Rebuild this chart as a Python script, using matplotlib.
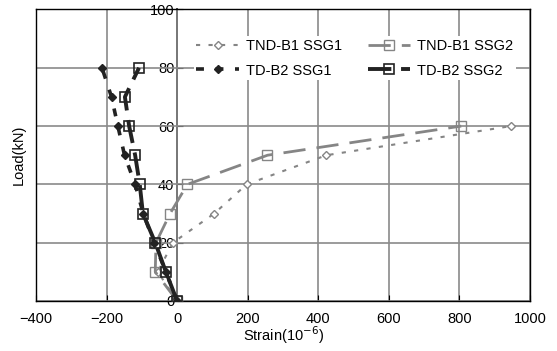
# Load-strain curves for TND-B1 and TD-B2 strain gauges

import matplotlib.pyplot as plt

plt.rcParams['font.family'] = ['Liberation Sans', 'DejaVu Sans']

# load steps (kN)
load_b1 = [0, 10, 20, 30, 40, 50, 60]
load_b2 = [0, 10, 20, 30, 40, 50, 60, 70, 80]

# strain readings (x10^-6)
tnd_ssg1 = [0, -55, -12, 105, 197, 423, 946]
tnd_ssg2 = [0, -62, -60, -20, 29, 256, 805]
td_ssg1 = [0, -32, -65, -96, -119, -149, -168, -186, -213]
td_ssg2 = [0, -32, -62, -97, -106, -119, -136, -148, -108]

xticks = [-400, -200, 0, 200, 400, 600, 800, 1000]
yticks = [0, 20, 40, 60, 80, 100]

gray = '#858585'
dark = '#222222'

fig = plt.figure(figsize=(5.57, 3.51), dpi=100)
ax = fig.add_axes([0.0646, 0.1425, 0.887, 0.8305])

l1, = ax.plot(tnd_ssg1, load_b1, color=gray, lw=1.5, dashes=(2, 4),
              marker='D', ms=4.5, mfc='white', mec=gray, mew=1,
              label='TND-B1 SSG1', zorder=3)
l2, = ax.plot(tnd_ssg2, load_b1, color=gray, lw=2, dashes=(8, 4),
              marker='s', ms=6.5, mfc='none', mec=gray, mew=1,
              label='TND-B1 SSG2', zorder=3)
l3, = ax.plot(td_ssg1, load_b2, color=dark, lw=2.6, dashes=(2.2, 3.2),
              marker='D', ms=4, mfc=dark, mec=dark,
              label='TD-B2 SSG1', zorder=4)
l4, = ax.plot(td_ssg2, load_b2, color=dark, lw=2.8, dashes=(6, 2.5),
              marker='s', ms=6.5, mfc='none', mec=dark, mew=1.2,
              label='TD-B2 SSG2', zorder=4)

ax.set_xlim(xticks[0], xticks[-1])
ax.set_ylim(yticks[0], yticks[-1])
ax.set_xticks(xticks)
ax.set_xticklabels([str(t).replace('-', '\u2212') for t in xticks])
ax.tick_params(axis='x', direction='in', length=4, labelsize=10.5, pad=8)
ax.tick_params(axis='y', left=False, labelleft=False)
ax.set_yticks(yticks)
ax.grid(True, color='#8a8a8a', lw=1.2)
ax.set_axisbelow(True)
for s in ax.spines.values():
    s.set_color('black')
    s.set_linewidth(1)

# y axis drawn through strain = 0
pos = (0 - xticks[0]) / (xticks[-1] - xticks[0])
sec = ax.secondary_yaxis(pos)
sec.set_yticks(yticks)
sec.tick_params(direction='in', length=4, labelsize=10.5, pad=2)
sec.spines['left'].set_linewidth(1.2)

ax.set_xlabel('Strain(10$^{-6}$)', fontsize=10.5, labelpad=-1)
ax.set_ylabel('Load(kN)', fontsize=10.5)
ax.yaxis.set_label_coords(-0.02, 0.5)

# row-major legend order: B1 on the first row, B2 on the second
leg = ax.legend([l1, l3, l2, l4],
                [l1.get_label(), l3.get_label(), l2.get_label(), l4.get_label()],
                loc='upper right', bbox_to_anchor=(0.987, 0.935), ncol=2,
                fontsize=10.5, handlelength=2.9, columnspacing=1.75,
                handletextpad=0.5, labelspacing=0.75, frameon=True,
                fancybox=False, framealpha=1, edgecolor='none',
                borderpad=0.2)

fig.savefig('out.png', dpi=100)
